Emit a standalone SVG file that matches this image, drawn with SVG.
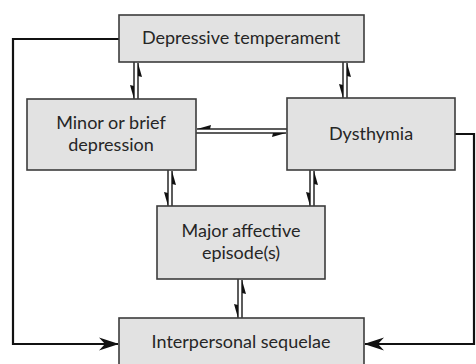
<svg xmlns="http://www.w3.org/2000/svg" width="476" height="364" viewBox="0 0 476 364">
  <style>
    .box { fill: #e2e2e2; stroke: #3c3c3c; stroke-width: 1.6; }
    .label { font-family: Lato, "Open Sans", "Liberation Sans", sans-serif; font-size: 18px; fill: #262626; text-anchor: middle; }
    .pair { fill: none; stroke: #262626; stroke-width: 1.5; marker-end: url(#half); }
    .loop { fill: none; stroke: #111; stroke-width: 2.2; marker-end: url(#head); }
  </style>
  <defs>
    <!-- single-barb head for the paired links, barb on the outer side -->
    <marker id="half" markerUnits="userSpaceOnUse" markerWidth="20" markerHeight="20" refX="0" refY="0" orient="auto" overflow="visible">
      <path d="M0,0 L-14,4 L-13,0 Z" fill="#111"/>
    </marker>
    <!-- notched head for the long feedback lines -->
    <marker id="head" markerUnits="userSpaceOnUse" markerWidth="24" markerHeight="24" refX="0" refY="0" orient="auto" overflow="visible">
      <path d="M1,0 L-19,-6.5 L-13,0 L-19,6.5 Z" fill="#111"/>
    </marker>
  </defs>

  <g id="connectors">
    <!-- temperament <-> minor -->
    <path class="pair" d="M134,62 V99"/>
    <path class="pair" d="M138,99 V63"/>
    <!-- temperament <-> dysthymia -->
    <path class="pair" d="M343,62 V98"/>
    <path class="pair" d="M347,98 V63"/>
    <!-- minor <-> dysthymia -->
    <path class="pair" d="M287,129 H197"/>
    <path class="pair" d="M196,133 H286"/>
    <!-- minor <-> major -->
    <path class="pair" d="M168,170 V206"/>
    <path class="pair" d="M172,206 V171"/>
    <!-- dysthymia <-> major -->
    <path class="pair" d="M310,170 V206"/>
    <path class="pair" d="M314,206 V171"/>
    <!-- major <-> interpersonal -->
    <path class="pair" d="M238,279 V318"/>
    <path class="pair" d="M242,318 V280"/>
    <!-- long feedback paths into interpersonal sequelae -->
    <path class="loop" d="M119,39 H13 V344 H118"/>
    <path class="loop" d="M455,134 H474 V344 H365"/>
  </g>

  <g id="temperament">
    <rect class="box" x="119" y="15" width="245" height="47"/>
    <text class="label" x="241" y="44">Depressive temperament</text>
  </g>
  <g id="minor">
    <rect class="box" x="27" y="99" width="169" height="71"/>
    <text class="label" x="111" y="129">Minor or brief</text>
    <text class="label" x="111" y="151">depression</text>
  </g>
  <g id="dysthymia">
    <rect class="box" x="287" y="98" width="168" height="72"/>
    <text class="label" x="371" y="140">Dysthymia</text>
  </g>
  <g id="major">
    <rect class="box" x="157" y="206" width="168" height="73"/>
    <text class="label" x="241" y="237">Major affective</text>
    <text class="label" x="241" y="259">episode(s)</text>
  </g>
  <g id="interpersonal">
    <rect class="box" x="119" y="318" width="245" height="50"/>
    <text class="label" x="241" y="348">Interpersonal sequelae</text>
  </g>
</svg>
